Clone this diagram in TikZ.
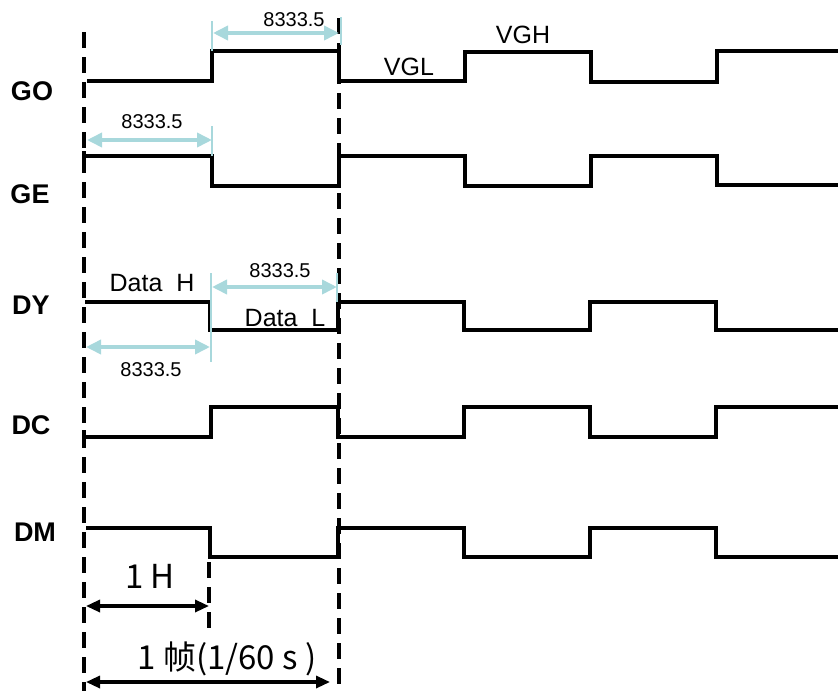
\documentclass[tikz,border=0pt]{standalone}
\usepackage{fontspec}
\setmainfont{Liberation Sans}
\newfontfamily\cjk{Noto Sans CJK SC}
\usetikzlibrary{arrows.meta}
\definecolor{lblue}{RGB}{168,216,220}
\tikzset{
  sig/.style={line width=3.4pt, line join=miter, line cap=butt},
  vdash/.style={line width=3.4pt, dash pattern=on 16pt off 9pt},
  darr/.style={line width=3.6pt, lblue, {Triangle[length=15pt,width=14pt]}-{Triangle[length=15pt,width=14pt]}},
  tick/.style={line width=1.2pt, lblue},
  barr/.style={line width=3.2pt, {Triangle[length=14pt,width=12pt]}-{Triangle[length=14pt,width=12pt]}},
  sname/.style={font=\bfseries\fontsize{27}{27}\selectfont, inner sep=0pt},
  num/.style={font=\fontsize{20}{20}\selectfont, inner sep=0pt},
  lvl/.style={font=\fontsize{25}{25}\selectfont, inner sep=0pt},
  big/.style={font=\cjk\fontsize{33}{33}\selectfont, inner sep=0pt}
}
\begin{document}
\begin{tikzpicture}[x=1pt,y=-1pt]
\useasboundingbox (0,0) rectangle (838,691);
% signal names
\node[sname] (nGO) at (32,91) {GO};
\node[sname] (nGE) at (30,194) {GE};
\node[sname] (nDY) at (31,305) {DY};
\node[sname] (nDC) at (31,425) {DC};
\node[sname] (nDM) at (35,532) {DM};
% waveforms
\draw[sig] (87,81) -- (212,81) -- (212,51) -- (339,51) -- (339,81) -- (465,81) -- (465,52) -- (591,52) -- (591,82) -- (717,82) -- (717,51) -- (838,51);
\draw[sig] (84,151) -- (84,156) -- (212,156) -- (212,186) -- (339,186) -- (339,156) -- (465,156) -- (465,186) -- (591,186) -- (591,156) -- (717,156) -- (717,185) -- (838,185);
\draw[sig] (85,302) -- (210,302) -- (210,330) -- (338,330) -- (338,302) -- (464,302) -- (464,330) -- (590,330) -- (590,302) -- (716,302) -- (716,330) -- (838,330);
\draw[sig] (84,430) -- (84,437) -- (211,437) -- (211,407) -- (338,407) -- (338,437) -- (464,437) -- (464,407) -- (590,407) -- (590,437) -- (716,437) -- (716,407) -- (838,407);
\draw[sig] (86,528) -- (210,528) -- (210,557) -- (338,557) -- (338,528) -- (464,528) -- (464,557) -- (590,557) -- (590,528) -- (716,528) -- (716,557) -- (838,557);
% dashed lines
\draw[vdash] (84,32) -- (84,691);
\draw[vdash] (339,18) -- (339,691);
\draw[vdash] (209,562) -- (209,636);
% blue dimension ticks
\draw[tick] (212,21) -- (212,51);
\draw[tick] (341,17) -- (341,45);
\draw[tick] (212,126) -- (212,156);
\draw[tick] (211,273) -- (211,362);
\draw[tick] (337,273) -- (337,302);
% blue dimension arrows
\coordinate (a1l) at (213,33); \coordinate (a1r) at (339,33);
\coordinate (a2l) at (87,140); \coordinate (a2r) at (212,140);
\coordinate (a3l) at (212,287); \coordinate (a3r) at (337,287);
\coordinate (a4l) at (86,347); \coordinate (a4r) at (210,347);
\draw[darr] (a1l) -- (a1r);
\draw[darr] (a2l) -- (a2r);
\draw[darr] (a3l) -- (a3r);
\draw[darr] (a4l) -- (a4r);
\node[num] (t1) at (294,20) {8333.5};
\node[num] (t2) at (152,122) {8333.5};
\node[num] (t3) at (280,271) {8333.5};
\node[num] (t4) at (151,370) {8333.5};
% level labels
\node[lvl] (dh) at (152,283) {Data\ \ H};
\node[lvl] (dl) at (285,318) {Data\ \ L};
\node[lvl] (vgl) at (409,67) {VGL};
\node[lvl] (vgh) at (523,35) {VGH};
% black time arrows
\coordinate (h1l) at (86,606); \coordinate (h1r) at (209,606);
\coordinate (f1l) at (86,682); \coordinate (f1r) at (330,682);
\draw[barr] (h1l) -- (h1r);
\draw[barr] (f1l) -- (f1r);
\node[big] (oneH) at (150,576) {1 H};
\node[big] (frame) at (227,659) {1 帧(1/60 s )};
\end{tikzpicture}
\end{document}
